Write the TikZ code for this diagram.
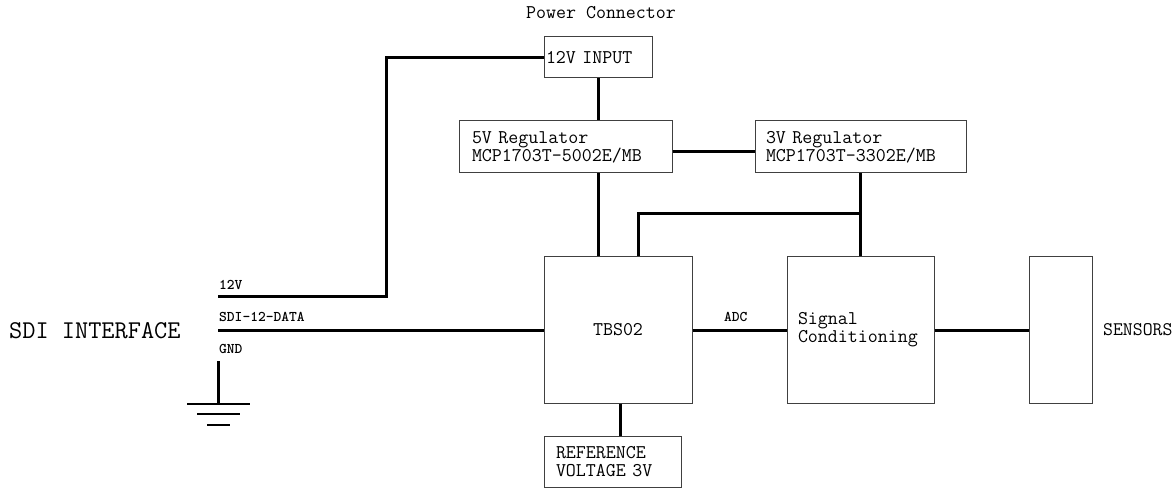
\documentclass[tikz,border=0pt]{standalone}
\begin{document}
\begin{tikzpicture}[x=1pt,y=-1pt,
  box/.style={draw=black!75, line width=1pt, fill=white, font=\ttfamily\fontsize{19.4}{18}\selectfont, align=left, inner ysep=0pt},
  wire/.style={line width=3pt, black},
  small/.style={font=\ttfamily\bfseries\fontsize{14.8}{15}\selectfont, inner sep=0pt, anchor=base west},
  big/.style={font=\ttfamily\fontsize{19.4}{18}\selectfont, inner sep=0pt}]
\useasboundingbox (0,0) rectangle (1176,489);
% boxes
\node[box, minimum width=108pt, minimum height=41pt, text width=104pt, inner xsep=2pt] (inp) at (598,57.5) {12V INPUT};
\node[box, minimum width=213pt, minimum height=52pt, text width=187pt, inner xsep=13pt] (reg5) at (565.5,147) {5V Regulator\\MCP1703T-5002E/MB};
\node[box, minimum width=211pt, minimum height=52pt, text width=189pt, inner xsep=11pt] (reg3) at (860.5,147) {3V Regulator\\MCP1703T-3302E/MB};
\node[box, minimum width=148pt, minimum height=146pt, align=center] (tbs) at (618,330) {TBS02};
\node[box, minimum width=147pt, minimum height=146pt, text width=125pt, inner xsep=11pt] (sig) at (860.5,330) {Signal\\Conditioning};
\node[box, minimum width=63pt, minimum height=146pt] (sen) at (1060.5,330) {};
\node[box, minimum width=137pt, minimum height=51pt, text width=113pt, inner xsep=12pt] (ref) at (612.5,461.5) {REFERENCE\\VOLTAGE 3V};
% labels
\node[big, anchor=base] (pc) at (601,19) {Power Connector};
\node[font=\ttfamily\fontsize{25.6}{26}\selectfont, inner sep=0pt, anchor=base west] (sdiif) at (9,338) {SDI INTERFACE};
\node[big, anchor=base west, font=\ttfamily\fontsize{19.2}{19}\selectfont] (senl) at (1103,335) {SENSORS};
\node[small] (l12) at (219,290) {12V};
\node[small] (lsdi) at (219,321) {SDI-12-DATA};
\node[small] (lgnd) at (219,353) {GND};
\node[small] (ladc) at (724,321) {ADC};
% free ends
\coordinate (v12) at (218,297);
\coordinate (sdi) at (218,330);
\coordinate (gnd) at (218,361);
\coordinate (gb) at (218,404);
\coordinate (j) at (860.5,214);
% wires
\draw[wire] (v12) -- (386,297) |- (inp.west);
\draw[wire] (sdi) -- (tbs.west);
\draw[wire] (inp.south) -- (inp.south |- reg5.north);
\draw[wire] ([yshift=-5pt]reg5.east) -- ([yshift=-5pt]reg3.west);
\draw[wire] (inp.south |- reg5.south) -- (inp.south |- tbs.north);
\draw[wire] (reg3.south) -- (sig.north);
\draw[wire] (j) -| ([xshift=20pt]tbs.north);
\draw[wire] ([xshift=2pt]tbs.south) -- ([xshift=2pt]tbs.south |- ref.north);
\draw[wire] (tbs.east) -- (sig.west);
\draw[wire] (sig.east) -- (sen.west);
% ground
\draw[wire] (gnd) -- (gb);
\draw[line width=2pt] ([xshift=-31pt]gb) -- ([xshift=32pt]gb);
\draw[line width=2pt] ([xshift=-21pt,yshift=-10pt]gb) -- ([xshift=22pt,yshift=-10pt]gb);
\draw[line width=2pt] ([xshift=-11pt,yshift=-21pt]gb) -- ([xshift=12pt,yshift=-21pt]gb);
\end{tikzpicture}
\end{document}
